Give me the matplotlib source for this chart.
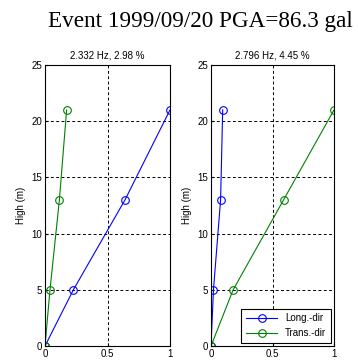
import matplotlib
matplotlib.use('Agg')
import matplotlib.pyplot as plt

plt.rcParams['font.family'] = ['Liberation Sans', 'DejaVu Sans']

alturas = [0, 5, 13, 21]

# modo 1
modo1_long = [0, 0.227, 0.64, 1.0]
modo1_trans = [0, 0.04, 0.115, 0.173]
titulo1 = '2.332 Hz, 2.98 %'

# modo 2
modo2_long = [0, 0.02, 0.078, 0.095]
modo2_trans = [0, 0.18, 0.59, 1.0]
titulo2 = '2.796 Hz, 4.45 %'

fig = plt.figure(figsize=(3.58, 3.6), dpi=100)
fig.text(0.56, 0.94, 'Event 1999/09/20 PGA=86.3 gal', ha='center', va='center',
         fontsize=16.7, family='Liberation Serif')

ax1 = fig.add_axes([45/358, 1 - 346/360, 125/358, 281/360])
ax2 = fig.add_axes([211/358, 1 - 346/360, 123/358, 281/360])

for ax, longd, trans, titulo in [(ax1, modo1_long, modo1_trans, titulo1),
                                  (ax2, modo2_long, modo2_trans, titulo2)]:
    ax.plot(longd, alturas, color='blue', marker='o', mfc='none', ms=5.5,
            lw=0.8, mew=0.8, label='Long.-dir')
    ax.plot(trans, alturas, color='green', marker='o', mfc='none', ms=5.5,
            lw=0.8, mew=0.8, label='Trans.-dir')
    ax.set_xlim(0, 1)
    ax.set_ylim(0, 25)
    ax.set_xticks([0, 0.5, 1])
    ax.set_xticklabels(['0', '0.5', '1'])
    ax.set_yticks([0, 5, 10, 15, 20, 25])
    ax.grid(True, color='black', linestyle=(0, (3, 2.5)), linewidth=0.7)
    ax.tick_params(direction='in', labelsize=7, length=2, pad=2)
    ax.set_ylabel('High (m)', fontsize=7, labelpad=4)
    ax.set_title(titulo, fontsize=7, pad=5)
    for s in ax.spines.values():
        s.set_linewidth(0.8)

leg = ax2.legend(loc='lower right', fontsize=7, frameon=True, fancybox=False,
                 edgecolor='black', borderpad=0.5, handlelength=3.2,
                 framealpha=1, borderaxespad=0.3)
leg.get_frame().set_linewidth(0.8)

fig.savefig('out.png', dpi=100)
